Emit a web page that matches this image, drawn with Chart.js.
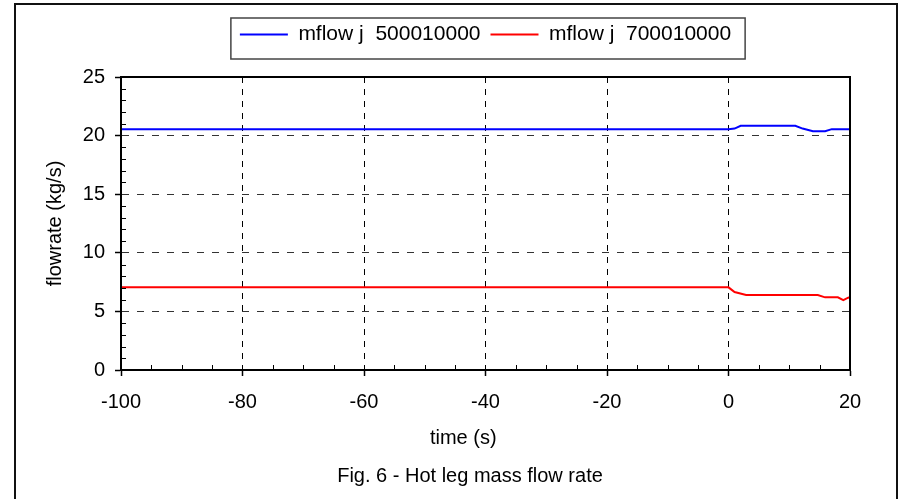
<!DOCTYPE html>
<html>
<head>
<meta charset="utf-8">
<script src="https://cdn.jsdelivr.net/npm/chart.js@4"></script>
<style>
  html, body { margin: 0; padding: 0; background: #fff; }
  #wrap { width: 901px; height: 499px; position: relative; }
</style>
</head>
<body>
<div id="wrap"><canvas id="chart" width="901" height="499"></canvas></div>
<script>
/* ----------------------------------------------------------
   Data
   ---------------------------------------------------------- */
const seriesNames = ['mflow j  500010000', 'mflow j  700010000'];

const timeA = [-100, 0, 1, 2, 11, 12.2, 13.9, 15.9, 17, 20];
const flowA = [20.55, 20.55, 20.6, 20.83, 20.83, 20.6, 20.37, 20.37, 20.55, 20.55];

const timeB = [-100, 0, 1, 2.9, 14.7, 15.9, 18, 18.9, 19.7, 20];
const flowB = [7.05, 7.05, 6.65, 6.4, 6.4, 6.2, 6.2, 5.97, 6.17, 6.2];

const xTicks = [-100, -80, -60, -40, -20, 0, 20];
const yTicks = [0, 5, 10, 15, 20, 25];

const caption = 'Fig. 6 - Hot leg mass flow rate';

/* ----------------------------------------------------------
   Helpers
   ---------------------------------------------------------- */
const FONT = "'Liberation Sans', Arial, sans-serif";
const NBSP = '\u00a0';

function toPoints(xs, ys) {
  return xs.map((x, i) => ({ x, y: ys[i] }));
}

// frame, plot border, minor ticks, legend box, caption
const decorations = {
  id: 'decorations',
  afterDraw(chart) {
    const { ctx, chartArea: a, scales } = chart;
    ctx.save();

    // outer frame
    ctx.strokeStyle = '#111';
    ctx.lineWidth = 2;
    ctx.strokeRect(15, 4, 882, 510);

    // plot border
    ctx.strokeStyle = '#000';
    ctx.lineWidth = 2;
    ctx.strokeRect(a.left, a.top, a.right - a.left, a.bottom - a.top);

    // minor ticks (inside)
    ctx.lineWidth = 1;
    ctx.beginPath();
    for (let v = -95; v < 20; v += 5) {
      if (v % 20 === 0) continue;
      const px = Math.round(scales.x.getPixelForValue(v)) + 0.5;
      ctx.moveTo(px, a.bottom);
      ctx.lineTo(px, a.bottom - 5);
    }
    for (let v = 1; v < 25; v++) {
      if (v % 5 === 0) continue;
      const py = Math.round(scales.y.getPixelForValue(v)) + 0.5;
      ctx.moveTo(a.left, py);
      ctx.lineTo(a.left + 5, py);
    }
    ctx.stroke();

    // legend box
    const hb = chart.legend.legendHitBoxes;
    if (hb && hb.length) {
      const last = hb[hb.length - 1];
      const l = hb[0].left - 9;
      const r = last.left + last.width + 14;
      ctx.strokeStyle = '#444';
      ctx.lineWidth = 1.5;
      ctx.strokeRect(l, 18, r - l, 41);
    }

    // caption
    ctx.fillStyle = '#000';
    ctx.font = '20px ' + FONT;
    ctx.textAlign = 'center';
    ctx.textBaseline = 'middle';
    ctx.fillText(caption, 470, 476);

    ctx.restore();
  },
};

/* ----------------------------------------------------------
   Chart
   ---------------------------------------------------------- */
Chart.defaults.font.family = FONT;
Chart.defaults.color = '#000';

new Chart(document.getElementById('chart'), {
  type: 'line',
  data: {
    datasets: [
      {
        label: seriesNames[0],
        data: toPoints(timeA, flowA),
        borderColor: '#0000FF',
        backgroundColor: '#0000FF',
        borderWidth: 2,
        pointRadius: 0,
        tension: 0,
      },
      {
        label: seriesNames[1],
        data: toPoints(timeB, flowB),
        borderColor: '#FF0000',
        backgroundColor: '#FF0000',
        borderWidth: 2,
        pointRadius: 0,
        tension: 0,
      },
    ],
  },
  options: {
    responsive: false,
    animation: false,
    events: [],
    layout: { padding: { left: 40, right: 51, top: 14, bottom: 42 } },
    plugins: {
      legend: {
        position: 'top',
        fullSize: false,
        labels: {
          usePointStyle: true,
          pointStyle: 'line',
          pointStyleWidth: 48,
          padding: 10,
          color: '#000',
          font: { size: 21 },
        },
      },
      // spacer between the legend and the plot
      subtitle: {
        display: true,
        text: '',
        position: 'top',
        weight: 500,
        font: { size: 1, lineHeight: 1 },
        padding: { top: 0, bottom: 21 },
      },
      tooltip: { enabled: false },
    },
    scales: {
      x: {
        type: 'linear',
        min: -100,
        max: 20,
        afterFit: (s) => { s.height = 87; },
        afterBuildTicks: (s) => { s.ticks = xTicks.map(v => ({ value: v })); },
        ticks: { font: { size: 20 }, padding: 14, color: '#000' },
        grid: {
          color: '#000',
          lineWidth: 1,
          tickLength: 6,
          tickColor: '#000',
          tickWidth: 1.5,
          tickBorderDash: [],
        },
        border: { display: true, color: '#000', width: 2, dash: [6, 6] },
        title: {
          display: true,
          // trailing spaces push the centred text left, as in the figure
          text: 'time (s)' + NBSP.repeat(8),
          color: '#000',
          font: { size: 20 },
          padding: { top: 0, bottom: 7 },
        },
      },
      y: {
        type: 'linear',
        min: 0,
        max: 25,
        afterFit: (s) => { s.width = 81; },
        afterBuildTicks: (s) => { s.ticks = yTicks.map(v => ({ value: v })); },
        ticks: { font: { size: 20 }, padding: 10, color: '#000' },
        grid: {
          color: '#333',
          lineWidth: 1,
          tickLength: 6,
          tickColor: '#000',
          tickWidth: 1.5,
          tickBorderDash: [],
        },
        border: { display: true, color: '#000', width: 2, dash: [7, 8] },
        title: {
          display: true,
          text: 'flowrate (kg/s)',
          color: '#000',
          font: { size: 20 },
          padding: { top: 3, bottom: 0 },
        },
      },
    },
  },
  plugins: [decorations],
});
</script>
</body>
</html>
